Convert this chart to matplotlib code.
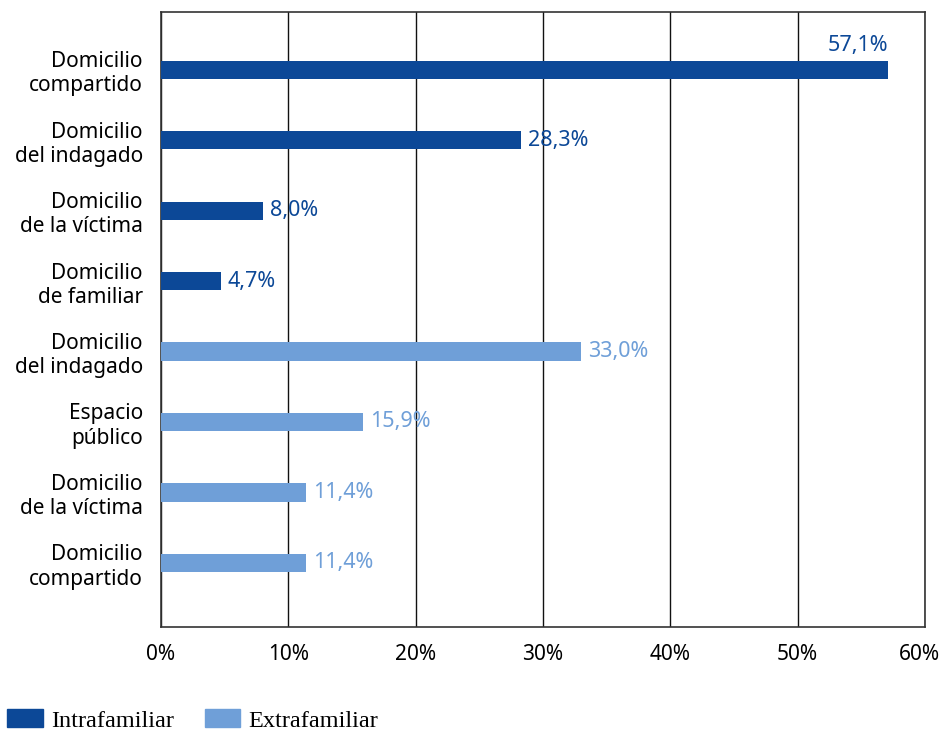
import matplotlib.pyplot as plt
import matplotlib.transforms as mtransforms
from matplotlib.patches import Patch

# Lugar de los hechos, según tipo de violencia
lugares = ['Domicilio\ncompartido', 'Domicilio\ndel indagado', 'Domicilio\nde la víctima',
           'Domicilio\nde familiar', 'Domicilio\ndel indagado', 'Espacio\npúblico',
           'Domicilio\nde la víctima', 'Domicilio\ncompartido']
porcentajes = [57.1, 28.3, 8.0, 4.7, 33.0, 15.9, 11.4, 11.4]
tipo = ['Intrafamiliar'] * 4 + ['Extrafamiliar'] * 4

colores = {'Intrafamiliar': '#0C4897', 'Extrafamiliar': '#6F9FD8'}

plt.rcParams['font.family'] = ['Noto Sans', 'DejaVu Sans']

fig = plt.figure(figsize=(9.42, 7.32), dpi=100)
ax = fig.add_axes([161 / 942, 1 - 627 / 732, 764 / 942, 615 / 732])

pos = list(range(len(lugares)))
cols = [colores[t] for t in tipo]
ax.barh(pos, porcentajes, height=0.26, color=cols, zorder=3)

for i, (v, c) in enumerate(zip(porcentajes, cols)):
    txt = f'{v:.1f}'.replace('.', ',') + '%'
    if v > 50:
        ax.text(v, i - 0.2, txt, color=c, fontsize=15.5, ha='right', va='bottom', zorder=4)
    else:
        ax.text(v + 0.55, i, txt, color=c, fontsize=15.5, ha='left', va='center', zorder=4)

ax.set_xlim(0, 60)
ax.set_ylim(7.91, -0.82)
ax.set_xticks(range(0, 61, 10))
ax.set_xticklabels([f'{x}%' for x in range(0, 61, 10)], fontsize=15)
ax.set_yticks(pos)
ax.set_yticklabels(lugares, fontsize=15, linespacing=1.2)
ax.tick_params(length=0)
ax.tick_params(axis='x', pad=12)
ax.tick_params(axis='y', pad=13)
ax.xaxis.grid(True, color='#111111', linewidth=1, zorder=0)
for s in ax.spines.values():
    s.set_color('#333333')
    s.set_linewidth(1.2)

# el último rótulo del eje se corre a la izquierda para que no se corte
ultimo = ax.get_xticklabels()[-1]
ultimo.set_transform(ultimo.get_transform() +
                     mtransforms.ScaledTranslation(-6 / 100, 0, fig.dpi_scale_trans))

handles = [Patch(color=colores['Intrafamiliar'], label='Intrafamiliar'),
           Patch(color=colores['Extrafamiliar'], label='Extrafamiliar')]
fig.legend(handles=handles, loc='lower left', bbox_to_anchor=(5 / 942, -2 / 732), ncol=2,
           frameon=False, prop={'family': 'Liberation Serif', 'size': 17.5},
           handlelength=1.45, handleheight=0.72, handletextpad=0.33, columnspacing=1.3,
           borderaxespad=0.0, borderpad=0.1)

fig.savefig('out.png', dpi=100)
